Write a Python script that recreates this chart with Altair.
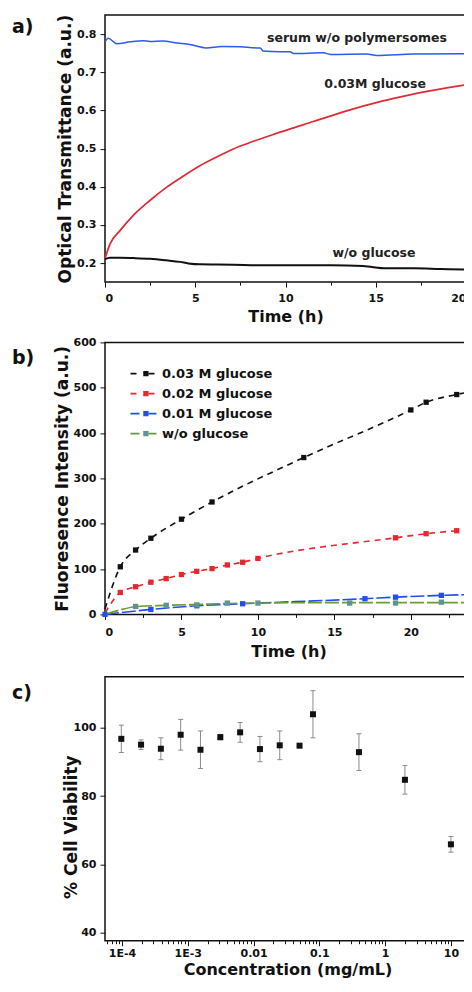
import altair as alt
import pandas as pd

FONT = "DejaVu Sans"

# ---------------- Panel a data ----------------
a_series = ["serum w/o polymersomes", "0.03M glucose", "w/o glucose"]
a_colors = ["#2a5cf0", "#e02a35", "#111111"]

a_blue_t = [0, 0.18, 0.65, 1.4, 2.1, 2.5, 3.2, 4.0, 4.7, 5.6, 6.5, 7.5, 8.4, 8.6, 8.75, 9.7, 10.25, 10.45,
            12.1, 12.5, 14.5, 15.05, 17.1, 20]
a_blue_v = [0.780, 0.789, 0.775, 0.780, 0.783, 0.781, 0.782, 0.777, 0.773, 0.764, 0.768, 0.767, 0.764, 0.764,
            0.756, 0.754, 0.754, 0.749, 0.751, 0.747, 0.748, 0.744, 0.748, 0.749]

a_red_t = [0, 0.28, 0.83, 1.57, 2.49, 3.42, 4.34, 5.26, 6.19, 7.11, 8.03, 8.96, 9.7, 11.54, 13.39, 15.24,
           17.08, 18.93, 20]
a_red_v = [0.212, 0.25, 0.285, 0.325, 0.364, 0.399, 0.428, 0.455, 0.478, 0.499, 0.516, 0.531, 0.543, 0.571,
           0.599, 0.623, 0.643, 0.659, 0.667]

a_black_t = [0, 0.28, 0.83, 1.57, 2.5, 3.4, 4.15, 4.62, 5.26, 7.1, 8.6, 10.25, 12.5, 14.3, 15.6, 17.1, 18.6, 20]
a_black_v = [0.21, 0.214, 0.214, 0.213, 0.211, 0.207, 0.203, 0.199, 0.1966, 0.1957, 0.194, 0.194, 0.194,
             0.192, 0.186, 0.186, 0.1843, 0.183]

a_label_text = ["serum w/o polymersomes", "0.03M glucose", "w/o glucose"]
a_label_t = [13.96, 14.96, 14.9]
a_label_v = [0.79, 0.669, 0.226]

# ---------------- Panel b data ----------------
b_series = ["0.03 M glucose", "0.02 M glucose", "0.01 M glucose", "w/o glucose"]
b_line_colors = ["#111111", "#e8262e", "#1f4ef5", "#6b9b37"]
b_point_colors = ["#111111", "#e8262e", "#1f4ef5", "#5e9494"]

b_black_fit_t = [0, 1, 2, 3, 5, 7, 13, 20, 21, 23, 24]
b_black_fit_v = [12, 105, 142, 168, 210, 248, 346, 451, 468, 485, 492]
b_red_fit_t = [0, 1, 2, 3, 4, 5, 6, 7, 8, 9, 10, 19, 21, 23]
b_red_fit_v = [3, 48.5, 61, 71, 79, 88, 95, 101, 109, 115, 123.5, 169, 178, 184.6]
b_blue_fit_t = [0, 3, 6, 9, 17, 19, 22, 24]
b_blue_fit_v = [0, 11, 19, 23.5, 34.6, 38, 42, 44]
b_green_fit_t = [0, 1, 2, 4, 6, 8, 10, 16, 19, 22, 24]
b_green_fit_v = [0, 10, 17, 20, 22, 24, 25, 26, 26, 26, 26]

b_black_t = [1, 2, 3, 5, 7, 13, 20, 21, 23]
b_black_v = [105, 142, 168, 210, 248, 346, 451, 468, 485]
b_red_t = [1, 2, 3, 4, 5, 6, 7, 8, 9, 10, 19, 21, 23]
b_red_v = [48.5, 61, 71, 79, 88, 95, 101, 109, 115, 123.5, 169, 178, 184.6]
b_blue_t = [0, 3, 6, 9, 17, 19, 22]
b_blue_v = [0, 11, 19, 23.5, 34.6, 38, 42]
b_teal_t = [2, 4, 6, 8, 10, 16, 19, 22]
b_teal_v = [17.6, 20, 21, 25, 25, 25, 25, 27]

# ---------------- Panel c data ----------------
c_conc = [0.0000977, 0.000195, 0.00039, 0.00078, 0.00156, 0.003125, 0.00625, 0.0125, 0.025, 0.05, 0.08, 0.4, 2, 10]
c_mean = [96.8, 95.1, 93.9, 98.0, 93.6, 97.3, 98.7, 93.8, 94.9, 94.8, 104.0, 92.9, 84.8, 65.9]
c_err = [4.0, 1.4, 3.2, 4.5, 5.5, 0.8, 2.9, 3.7, 4.2, 0.6, 6.9, 5.4, 4.2, 2.3]

# ---------------- helpers ----------------
def tick_size(test, major=5, minor=3):
    return {"condition": {"test": test, "value": major}, "value": minor}

def panel_label(txt, y):
    return alt.Chart(pd.DataFrame({"p": [txt]})).mark_text(
        align="left", baseline="top", font=FONT, fontWeight="bold", fontSize=19, color="#111"
    ).encode(x=alt.value(-93), y=alt.value(y), text="p:N")

# ---------------- Panel a ----------------
rows = []
for s, ts, vs in zip(a_series, [a_blue_t, a_red_t, a_black_t], [a_blue_v, a_red_v, a_black_v]):
    for t, v in zip(ts, vs):
        rows.append({"s": s, "t": t, "v": v})
df_a = pd.DataFrame(rows)

a_xvals = [i * 2.5 for i in range(9)]
a_yvals = [round(0.2 + 0.05 * i, 2) for i in range(13)]
a_major_y = "abs(datum.value*10 - round(datum.value*10)) < 1e-6"

xa = alt.X("t:Q", scale=alt.Scale(domain=[0, 20], nice=False, zero=False),
           axis=alt.Axis(title="Time (h)", values=a_xvals, format="d",
                         labelExpr="datum.value % 5 === 0 ? datum.label : ''",
                         tickSize=tick_size("datum.value % 5 === 0"),
                         labelPadding=5, titleY=34, titleBaseline="middle"))
ya = alt.Y("v:Q", scale=alt.Scale(domain=[0.15, 0.85], nice=False, zero=False),
           axis=alt.Axis(title="Optical Transmittance (a.u.)", values=a_yvals, format=".1f",
                         labelExpr=f"({a_major_y}) ? datum.label : ''",
                         tickSize=tick_size(a_major_y),
                         labelPadding=4, titleX=-40, titleY=133.5, titleBaseline="middle",
                         titleFontSize=17))

a_lines = alt.Chart(df_a).mark_line(interpolate="monotone").encode(
    x=xa, y=ya,
    color=alt.Color("s:N", scale=alt.Scale(domain=a_series, range=a_colors), legend=None),
    strokeWidth=alt.StrokeWidth("s:N", scale=alt.Scale(domain=a_series, range=[1.5, 2.0, 2.3]), legend=None),
)
a_text = alt.Chart(pd.DataFrame({"t": a_label_t, "v": a_label_v, "txt": a_label_text})).mark_text(
    font=FONT, fontWeight="bold", fontSize=12.5, color="#222"
).encode(x="t:Q", y="v:Q", text="txt:N")

chart_a = alt.layer(a_lines, a_text, panel_label("a)", 3)).properties(width=361, height=267)

# ---------------- Panel b ----------------
rows = []
for s, ts, vs in zip(b_series, [b_black_fit_t, b_red_fit_t, b_blue_fit_t, b_green_fit_t],
                     [b_black_fit_v, b_red_fit_v, b_blue_fit_v, b_green_fit_v]):
    for t, v in zip(ts, vs):
        rows.append({"s": s, "t": t, "v": v})
df_b_line = pd.DataFrame(rows)

keys = ["k1", "k2", "k3", "k4"]
rows = []
for s, k, ts, vs in zip(b_series, keys, [b_black_t, b_red_t, b_blue_t, b_teal_t],
                        [b_black_v, b_red_v, b_blue_v, b_teal_v]):
    for t, v in zip(ts, vs):
        rows.append({"s": s, "k": k, "t": t, "v": v})
df_b_pts = pd.DataFrame(rows)

b_xvals = [i * 2.5 for i in range(10)]
b_yvals = [i * 50 for i in range(13)]

xb = alt.X("t:Q", scale=alt.Scale(domain=[0, 24], nice=False, zero=False),
           axis=alt.Axis(title="Time (h)", values=b_xvals, format="d",
                         labelExpr="datum.value % 5 === 0 ? datum.label : ''",
                         tickSize=tick_size("datum.value % 5 === 0"),
                         labelPadding=7, titleY=37, titleBaseline="middle"))
yb = alt.Y("v:Q", scale=alt.Scale(domain=[0, 600], nice=False, zero=False),
           axis=alt.Axis(title="Fluoresence Intensity (a.u.)", values=b_yvals, format="d",
                         labelExpr="datum.value % 100 === 0 ? datum.label : ''",
                         tickSize=tick_size("datum.value % 100 === 0"),
                         labelPadding=4, titleX=-42.5, titleY=136, titleBaseline="middle",
                         titleFontSize=17))

LEG_Y = 352
b_lines = alt.Chart(df_b_line).mark_line(interpolate="monotone", strokeWidth=1.6).encode(
    x=xb, y=yb,
    stroke=alt.Stroke("s:N", scale=alt.Scale(domain=b_series, range=b_line_colors),
                      legend=alt.Legend(orient="none", legendX=32, legendY=LEG_Y, title=None,
                                        symbolType="M-2.6,0H-0.8M1,0H2.6", symbolSize=100,
                                        symbolStrokeWidth=1.6, labelFont=FONT, labelFontWeight="bold",
                                        labelFontSize=13, labelColor="#111", labelOffset=12,
                                        rowPadding=6, padding=0)),
    strokeDash=alt.StrokeDash("s:N", scale=alt.Scale(domain=b_series,
                                                     range=[[6, 5], [6, 5], [14, 3], [14, 3]]), legend=None),
)
b_pts = alt.Chart(df_b_pts).mark_square(size=28, opacity=1).encode(
    x="t:Q", y="v:Q",
    fill=alt.Fill("k:N", scale=alt.Scale(domain=keys, range=b_point_colors),
                  legend=alt.Legend(orient="none", legendX=34.4, legendY=LEG_Y, title=None,
                                    symbolType="square", symbolSize=28, symbolStrokeWidth=0,
                                    labelFont=FONT, labelFontWeight="bold", labelFontSize=13,
                                    labelExpr="''", labelOffset=7, rowPadding=6, padding=0)),
)
chart_b = alt.layer(b_lines, b_pts, panel_label("b)", 6.5)).properties(width=367, height=272)

# ---------------- Panel c ----------------
df_c = pd.DataFrame({"c": c_conc, "m": c_mean,
                     "lo": [m - e for m, e in zip(c_mean, c_err)],
                     "hi": [m + e for m, e in zip(c_mean, c_err)]})

c_xvals = []
for d in range(-5, 2):
    for k in range(1, 10):
        val = k * 10.0 ** d
        if 5.52e-5 <= val <= 19.5:
            c_xvals.append(float(f"{val:.6g}"))
c_major_x = "abs(log(datum.value)/LN10 - round(log(datum.value)/LN10)) < 1e-6"
c_yvals = [40, 50, 60, 70, 80, 90, 100, 110]

xc = alt.X("c:Q", scale=alt.Scale(type="log", domain=[5.52e-5, 19.5], nice=False),
           axis=alt.Axis(title="Concentration (mg/mL)", values=c_xvals,
                         labelExpr=f"({c_major_x}) ? (datum.value < 0.0005 ? '1E-4' : datum.value < 0.005 ? '1E-3' : format(datum.value, '~g')) : ''",
                         tickSize=tick_size(c_major_x, 5, 3),
                         labelPadding=2, titleY=29, titleBaseline="middle"))
yc = alt.Y("lo:Q", scale=alt.Scale(domain=[37.67, 115], nice=False, zero=False),
           axis=alt.Axis(title="% Cell Viability", values=c_yvals, format="d",
                         labelExpr="datum.value % 20 === 0 ? datum.label : ''",
                         tickSize=tick_size("datum.value % 20 === 0"),
                         labelPadding=4, titleX=-34, titleY=150, titleBaseline="middle",
                         titleFontSize=17))

c_rule = alt.Chart(df_c).mark_rule(color="#8a8a8a", strokeWidth=1).encode(x=xc, y=yc, y2="hi:Q")
c_cap_lo = alt.Chart(df_c).mark_tick(orient="horizontal", size=5, thickness=1, color="#8a8a8a", opacity=1).encode(
    x="c:Q", y="lo:Q")
c_cap_hi = alt.Chart(df_c).mark_tick(orient="horizontal", size=5, thickness=1, color="#8a8a8a", opacity=1).encode(
    x="c:Q", y="hi:Q")
c_pts = alt.Chart(df_c).mark_square(size=36, color="#111", opacity=1).encode(x="c:Q", y="m:Q")
# invisible spacer that widens the gap above panel c
c_spacer = alt.Chart(pd.DataFrame({"z": [0]})).mark_rule(opacity=0, strokeWidth=1).encode(
    x=alt.value(0), x2=alt.value(2), y=alt.value(-4.4))

chart_c = alt.layer(c_rule, c_cap_lo, c_cap_hi, c_pts, c_spacer, panel_label("c)", 7)).properties(
    width=365, height=264)

chart = alt.vconcat(chart_a, chart_b, chart_c, spacing=10.3).properties(
    autosize=alt.AutoSizeParams(type="none"),
    padding={"left": 97, "top": 7.1, "right": 359, "bottom": 963.9}
).configure_view(stroke="#111", strokeWidth=1.5).configure_axis(
    labelFont=FONT, labelFontWeight="bold", labelFontSize=11, labelColor="#111",
    titleFont=FONT, titleFontWeight="bold", titleFontSize=16, titleColor="#111",
    domain=False, grid=False, tickColor="#111", tickWidth=1
)

chart.save("out.html", embed_options={"renderer": "svg", "actions": False})
